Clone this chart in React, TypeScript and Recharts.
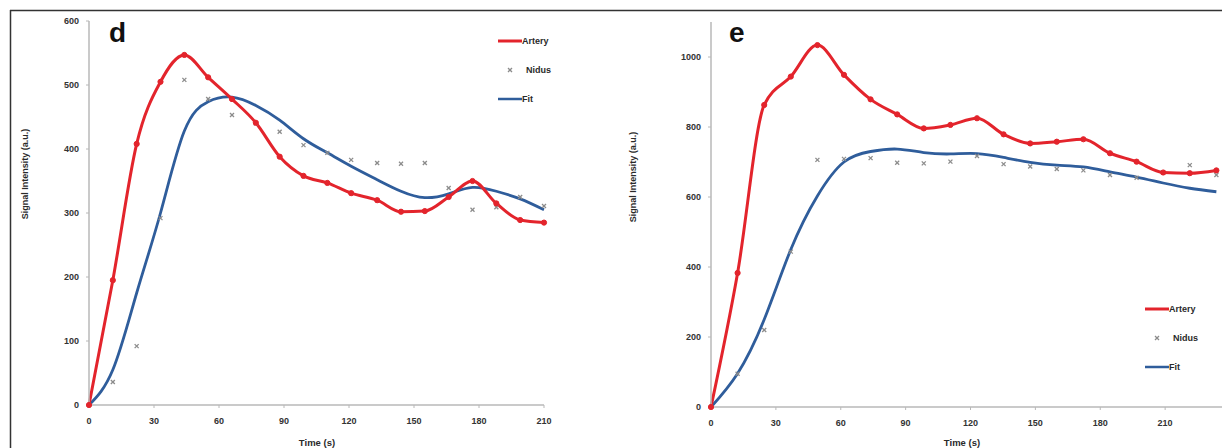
import { LineChart, Line, XAxis, YAxis, Legend } from 'recharts'

const RED = '#e3242c'
const BLUE = '#2f5d9b'
const GREY = '#8c8c8c'
const AXIS = '#b8b8b8'
const INK = '#2a2a2a'
const FONT = '"Liberation Sans", Arial, sans-serif'

// panel d
const dTimes = [0, 11, 22, 33, 44, 55, 66, 77, 88, 99, 110, 121, 133, 144, 155, 166, 177, 188, 199, 210]
const dArtery = [0, 195, 408, 505, 547, 512, 478, 441, 388, 358, 347, 331, 320, 302, 303, 325, 350, 315, 289, 285]
const dNidus = [0, 36, 92, 292, 508, 478, 453, 440, 427, 406, 394, 383, 378, 377, 378, 339, 305, 309, 325, 311]
const dFit = [0, 55, 175, 300, 428, 474, 481, 468, 445, 416, 394, 373, 352, 334, 324, 330, 340, 334, 322, 305]
const dXTicks = [0, 30, 60, 90, 120, 150, 180, 210]
const dYTicks = [0, 100, 200, 300, 400, 500, 600]

// panel e
const eTimes = [0, 12.3, 24.6, 36.9, 49.2, 61.5, 73.8, 86.1, 98.4, 110.7, 123, 135.3, 147.6, 159.9, 172.2, 184.5, 196.8, 209.1, 221.4, 233.7]
const eArtery = [0, 383, 863, 944, 1034, 949, 879, 836, 796, 806, 825, 779, 753, 758, 765, 725, 701, 670, 668, 676]
const eNidus = [0, 95, 220, 444, 706, 709, 711, 698, 696, 701, 717, 694, 687, 680, 676, 663, 655, 670, 691, 663]
const eFit = [0, 96, 250, 450, 603, 700, 730, 737, 727, 723, 724, 713, 699, 691, 686, 672, 657, 640, 625, 615]
const eXTicks = [0, 30, 60, 90, 120, 150, 180, 210]
const eYTicks = [0, 200, 400, 600, 800, 1000]

const seriesNames = ['Artery', 'Nidus', 'Fit']

const build = (t: number[], a: number[], n: number[], f: number[]) =>
  t.map((time, i) => ({ t: time, artery: a[i], nidus: n[i], fit: f[i] }))

const tickStyle = { fontSize: 9, fontWeight: 700, fill: '#333', fontFamily: FONT }

const Cross = (props: any) => {
  const { cx, cy, index } = props
  if (cx == null || cy == null) return <g key={`n-${index}`} />
  const s = 2
  return (
    <g key={`n-${index}`} stroke={GREY} strokeWidth={1.3}>
      <line x1={cx - s} y1={cy - s} x2={cx + s} y2={cy + s} />
      <line x1={cx - s} y1={cy + s} x2={cx + s} y2={cy - s} />
    </g>
  )
}

const LegendBox = () => (
  <div style={{ fontFamily: FONT, fontSize: 9, fontWeight: 700, color: INK }}>
    {seriesNames.map((name) => (
      <div key={name} style={{ display: 'flex', alignItems: 'center', height: 29 }}>
        <svg width={24} height={8}>
          {name === 'Artery' && <line x1={0} y1={4} x2={24} y2={4} stroke={RED} strokeWidth={3} />}
          {name === 'Fit' && <line x1={0} y1={4} x2={24} y2={4} stroke={BLUE} strokeWidth={2.5} />}
          {name === 'Nidus' && (
            <g stroke={GREY} strokeWidth={1.3}>
              <line x1={10} y1={2} x2={14} y2={6} />
              <line x1={10} y1={6} x2={14} y2={2} />
            </g>
          )}
        </svg>
        <span style={{ marginLeft: name === 'Nidus' ? 4 : 0 }}>{name}</span>
      </div>
    ))}
  </div>
)

function Panel(props: {
  data: any[]
  width: number
  margin: any
  xMax: number
  yMax: number
  xTicks: number[]
  yTicks: number[]
  legendPos: { left: number; top: number }
}) {
  const { data, width, margin, xMax, yMax, xTicks, yTicks, legendPos } = props
  return (
    <LineChart width={width} height={448} data={data} margin={margin}>
      <XAxis
        type="number"
        dataKey="t"
        domain={[0, xMax]}
        ticks={xTicks}
        height={30}
        tick={tickStyle}
        tickSize={3}
        tickMargin={10}
        axisLine={{ stroke: AXIS, strokeWidth: 1.5 }}
        tickLine={{ stroke: AXIS }}
      />
      <YAxis
        type="number"
        domain={[0, yMax]}
        ticks={yTicks}
        width={40}
        tick={tickStyle}
        tickSize={3}
        tickMargin={7}
        axisLine={{ stroke: AXIS, strokeWidth: 1.5 }}
        tickLine={{ stroke: AXIS }}
      />
      {/* middle/center keeps the legend from eating plot space */}
      <Legend
        layout="vertical"
        align="center"
        verticalAlign="middle"
        content={<LegendBox />}
        wrapperStyle={{ left: legendPos.left, top: legendPos.top, width: 80 }}
      />
      <Line dataKey="fit" name="Fit" type="natural" stroke={BLUE} strokeWidth={2.8} dot={false} isAnimationActive={false} />
      <Line dataKey="nidus" name="Nidus" stroke="none" dot={Cross} activeDot={false} isAnimationActive={false} />
      <Line
        dataKey="artery"
        name="Artery"
        type="monotone"
        stroke={RED}
        strokeWidth={3}
        dot={{ r: 2.6, fill: RED, stroke: RED, strokeWidth: 1 }}
        isAnimationActive={false}
      />
    </LineChart>
  )
}

export default function App() {
  const dData = build(dTimes, dArtery, dNidus, dFit)
  const eData = build(eTimes, eArtery, eNidus, eFit)
  const txt = { fontFamily: FONT, fontWeight: 700, fill: INK }

  return (
    <div style={{ position: 'absolute', left: 0, top: 0, width: 1222, height: 448, overflow: 'hidden', background: '#fff' }}>
      <div style={{ position: 'absolute', left: 0, top: 0 }}>
        <Panel
          data={dData}
          width={600}
          margin={{ top: 21, right: 56, bottom: 13, left: 49 }}
          xMax={210}
          yMax={600}
          xTicks={dXTicks}
          yTicks={dYTicks}
          legendPos={{ left: 498, top: 26 }}
        />
      </div>
      <div style={{ position: 'absolute', left: 620, top: 0 }}>
        <Panel
          data={eData}
          width={620}
          margin={{ top: 22, right: 10, bottom: 11, left: 51 }}
          xMax={240}
          yMax={1100}
          xTicks={eXTicks}
          yTicks={eYTicks}
          legendPos={{ left: 525, top: 294 }}
        />
      </div>
      <svg width={1222} height={448} style={{ position: 'absolute', left: 0, top: 0, pointerEvents: 'none' }}>
        <line x1={10} y1={10.5} x2={1222} y2={10.5} stroke="#333" strokeWidth={1.5} />
        <line x1={10.5} y1={10} x2={10.5} y2={448} stroke="#333" strokeWidth={1.5} />
        <text x={109} y={42} fontSize={28} {...txt} fill="#111">d</text>
        <text x={729} y={42} fontSize={28} {...txt} fill="#111">e</text>
        <text x={317} y={446} fontSize={9.5} textAnchor="middle" {...txt}>Time (s)</text>
        <text x={962} y={446} fontSize={9.5} textAnchor="middle" {...txt}>Time (s)</text>
        <text x={28} y={174} fontSize={9} textAnchor="middle" transform="rotate(-90 28 174)" {...txt}>Signal Intensity (a.u.)</text>
        <text x={636} y={177} fontSize={9} textAnchor="middle" transform="rotate(-90 636 177)" {...txt}>Signal Intensity (a.u.)</text>
      </svg>
    </div>
  )
}
